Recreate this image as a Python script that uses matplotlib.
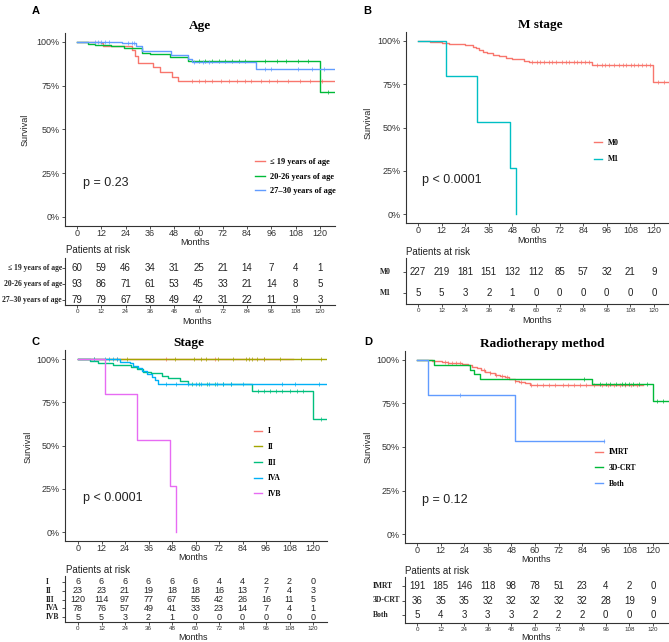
import numpy as np
import matplotlib
matplotlib.use("Agg")
import matplotlib.pyplot as plt
from matplotlib import transforms

plt.rcParams['font.family'] = ['Liberation Sans', 'DejaVu Sans']
SERIF = ['Liberation Serif', 'DejaVu Serif']

# ---------------- data ----------------
months = [0, 12, 24, 36, 48, 60, 72, 84, 96, 108, 120]

# A: age
age_labels = ['≤ 19 years of age', '20-26 years of age', '27–30 years of age']
age_t1 = [12, 13, 27, 28.5, 30, 37.5, 41, 47, 50]
age_s1 = [.99, .974, .95, .92, .878, .853, .825, .80, .773]
age_c1 = [57, 60, 63, 66.5, 71, 75, 79, 83, 86, 91, 95, 99, 104, 110, 115, 121]
age_t2 = [5.6, 8.9, 17, 23, 32, 36, 46, 55, 120]
age_s2 = [.989, .983, .977, .964, .935, .93, .913, .891, .713]
age_c2 = [60, 63, 66.5, 70, 73, 76.5, 80, 83, 93, 99, 103, 109, 114, 124]
age_t3 = [22, 29.3, 32, 46.5, 55, 57, 88.6]
age_s3 = [.99, .975, .947, .922, .903, .886, .846]
age_c3 = [9, 10.5, 12, 14, 16, 25, 27, 28, 58, 62, 65, 93, 96, 109, 116, 122]
age_risk = [[60, 59, 46, 34, 31, 25, 21, 14, 7, 4, 1],
            [93, 86, 71, 61, 53, 45, 33, 21, 14, 8, 5],
            [79, 79, 67, 58, 49, 42, 31, 22, 11, 9, 3]]

# B: M stage
m_labels = ['M0', 'M1']
m_t1 = [6, 9, 12, 16, 20, 24, 26, 28, 29.5, 31, 33, 35, 38, 41, 44.7, 48, 51.5, 54, 56.6, 88.5, 119.5]
m_s1 = [.996, .993, .99, .985, .982, .978, .974, .967, .958, .948, .938, .928, .919, .911, .903, .898,
        .894, .886, .877, .864, .765]
m_c1 = [58, 60.5, 62, 64, 66.5, 68, 70, 73, 75, 77, 79.5, 81, 83, 85, 87, 91, 93.5, 95, 97, 99.5, 102,
        104, 106, 108.5, 110, 112, 114, 116, 118, 122, 125]
m_t2 = [14, 30, 47, 50]
m_s2 = [.8, .533, .267, 0]
m_risk = [[227, 219, 181, 151, 132, 112, 85, 57, 32, 21, 9],
          [5, 5, 3, 2, 1, 0, 0, 0, 0, 0, 0]]

# C: stage
st_labels = ['I', 'II', 'III', 'IVA', 'IVB']
st_t1, st_s1, st_c1 = [], [], [20, 45, 70, 95]
st_t2, st_s2 = [], []
st_c2 = [8, 25, 49.5, 59, 63, 65.5, 71.5, 79, 86, 87.5, 89, 91.5, 95, 103, 114, 124]
st_t3 = [6, 10, 18, 27, 30, 33, 37.5, 43, 46, 52, 56, 89, 120]
st_s3 = [.99, .979, .965, .952, .94, .927, .917, .902, .888, .875, .857, .817, .653]
st_c3 = [58, 62, 66, 70, 74, 78, 92, 95, 98, 101, 104, 108, 112, 115, 124]
st_t4 = [21.4, 26.5, 28.2, 30.4, 32.8, 35, 37.6, 39.3, 40.6]
st_s4 = [.985, .975, .96, .946, .932, .913, .898, .879, .855]
st_c4 = [8, 14, 16, 18, 20, 45, 50, 56, 60, 63, 67, 71, 74, 78, 84, 104, 111, 123]
st_t5 = [14, 30, 47, 50]
st_s5 = [.8, .533, .267, 0]
st_risk = [[6, 6, 6, 6, 6, 6, 4, 4, 2, 2, 0],
           [23, 23, 21, 19, 18, 18, 16, 13, 7, 4, 3],
           [120, 114, 97, 77, 67, 55, 42, 26, 16, 11, 5],
           [78, 76, 57, 49, 41, 33, 23, 14, 7, 4, 1],
           [5, 5, 3, 2, 1, 0, 0, 0, 0, 0, 0]]

# D: radiotherapy method
rt_labels = ['IMRT', '3D-CRT', 'Both']
rt_t1 = [7.5, 10, 12.5, 16, 19.3, 23, 26.1, 28, 30.3, 32.5, 34.6, 37, 39.7, 42, 44.7, 47, 49.8, 52, 55, 57.5]
rt_s1 = [.996, .993, .99, .985, .981, .976, .971, .962, .952, .942, .933, .924, .914, .907, .9, .891,
         .881, .873, .866, .856]
rt_c1 = [14, 16, 18, 20, 22, 34, 37, 40, 43, 46, 50, 53, 58, 61, 64, 67, 70, 74, 77, 80, 83, 86, 90,
         94, 97, 100, 103, 106, 109, 112]
rt_t2 = [8.8, 27.2, 28.9, 31.8, 89, 120]
rt_s2 = [.972, .944, .917, .889, .862, .766]
rt_c2 = [85, 93, 96, 98, 101, 104, 106, 108, 110, 113, 117, 122, 125]
rt_t3 = [5.8, 49.8]
rt_s3 = [.8, .533]
rt_c3 = [22, 95]
rt_risk = [[191, 185, 146, 118, 98, 78, 51, 23, 4, 2, 0],
           [36, 35, 35, 32, 32, 32, 32, 32, 28, 19, 9],
           [5, 4, 3, 3, 3, 2, 2, 2, 0, 0, 0]]

# ---------------- layout helpers (pixel based) ----------------
W, H = 669, 642
fig = plt.figure(figsize=(W / 100, H / 100), dpi=100)
INK = '#333333'


def px_axes(l, t, r, b):
    return fig.add_axes([l / W, 1 - b / H, (r - l) / W, (b - t) / H])


def ftext(x, y, s, **kw):
    fig.text(x / W, 1 - y / H, s, **kw)


def style(ax):
    for side in ['top', 'right']:
        ax.spines[side].set_visible(False)
    for side in ['left', 'bottom']:
        ax.spines[side].set_color(INK)
        ax.spines[side].set_linewidth(0.8)
    ax.tick_params(colors=INK, length=2.2, width=0.6, labelsize=6.5, pad=1.5)
    ax.tick_params(axis='x', pad=0.3)


def km(ax, ev_t, ev_s, t_end, cens, color, label):
    t = np.r_[0, ev_t, t_end]
    s = np.r_[1, ev_s, ev_s[-1] if len(ev_s) else 1]
    ax.step(t, s, where='post', color=color, lw=1.0, label=label)
    cens = np.asarray(cens, dtype=float)
    cens = cens[cens <= t_end]
    idx = np.searchsorted(t, cens, side='right') - 1
    ax.plot(cens, s[idx], '|', color=color, ms=2.5, mew=0.5)


def main_axes(l, r, y100, y0, x0, x120):
    sc = (y0 - y100)
    ax = px_axes(l, y100 - 0.05 * sc, r, y0 + 0.05 * sc)
    style(ax)
    pm = (x120 - x0) / 120
    ax.set_xlim((l - x0) / pm, (r - x0) / pm)
    ax.set_ylim(-0.05, 1.05)
    ax.set_xticks(months)
    ax.set_yticks([0, .25, .5, .75, 1])
    ax.set_yticklabels(['0%', '25%', '50%', '75%', '100%'])
    return ax


def risk_table(l, t, r, b, x0, x120, rows_px, labels, counts, lab_x, lab_ha, fs, lab_fs):
    ax = px_axes(l, t, r, b)
    style(ax)
    pm = (x120 - x0) / 120
    ax.set_xlim((l - x0) / pm, (r - x0) / pm)
    n = len(labels)
    pitch = (rows_px[-1] - rows_px[0]) / (n - 1)
    ax.set_ylim((rows_px[-1] - b) / pitch, (rows_px[-1] - t) / pitch)
    ax.set_yticks(range(n))
    ax.set_yticklabels([])
    ax.set_xticks(months)
    ax.tick_params(axis='x', labelsize=4.5, length=2, pad=1)
    ax.tick_params(axis='y', length=2)
    tr = transforms.blended_transform_factory(fig.transFigure, ax.transData)
    for i, (lab, cnt) in enumerate(zip(labels, counts)):
        y = n - 1 - i
        for m, c in zip(months, cnt):
            ax.text(m, y, str(c), ha='center', va='center', fontsize=fs, color='#222222')
        ax.text(lab_x / W, y, lab, transform=tr, ha=lab_ha, va='center', fontsize=lab_fs,
                family=SERIF, weight='bold', color='#222222')
    return ax


def legend(ax, x, y, fs, spacing):
    ax.legend(loc='center left', bbox_to_anchor=(x, y), frameon=False, handlelength=1.1,
              handletextpad=0.7, labelspacing=spacing, borderpad=0, borderaxespad=0,
              prop={'family': SERIF, 'weight': 'bold', 'size': fs})


def headers(letter_xy, title, title_xy, surv_xy, months_xy, par_xy, p, p_xy, tmonths_xy):
    ftext(*letter_xy, letter, fontsize=8, weight='bold', ha='left', va='center')
    ftext(*title_xy, title, fontsize=9.5, weight='bold', family=SERIF, ha='center', va='center')
    ftext(*surv_xy, 'Survival', fontsize=6.5, rotation=90, ha='center', va='center', color='#222222')
    ftext(*months_xy, 'Months', fontsize=6.5, ha='center', va='center', color='#222222')
    ftext(*par_xy, 'Patients at risk', fontsize=7, ha='left', va='center', color='#222222')
    ftext(*p_xy, p, fontsize=9, ha='left', va='center', color='#222222')
    ftext(*tmonths_xy, 'Months', fontsize=6.5, ha='center', va='center', color='#222222')


# ---------------- A ----------------
axA = main_axes(65, 335, 41.7, 217, 77, 320)
cols3 = ['#F8766D', '#00BA38', '#619CFF']
km(axA, age_t1, age_s1, 127.5, age_c1, cols3[0], age_labels[0])
km(axA, age_t2, age_s2, 127.5, age_c2, cols3[1], age_labels[1])
km(axA, age_t3, age_s3, 127.5, age_c3, cols3[2], age_labels[2])
legend(axA, 0.705, 0.255, 6, 0.75)
risk_table(65, 258, 335, 305, 77, 320, [268, 284, 300], age_labels, age_risk, 62, 'right', 7, 5.5)
letter = 'A'
headers((32, 11), 'Age', (200, 26), (25, 130), (195, 242.5), (66, 250), 'p = 0.23', (83, 183), (197, 321))

# ---------------- B ----------------
axB = main_axes(406, 669, 41, 214, 418, 654)
cols2 = ['#F8766D', '#00BFC4']
km(axB, m_t1, m_s1, 127.5, m_c1, cols2[0], m_labels[0])
km(axB, m_t2, m_s2, 50, [], cols2[1], m_labels[1])
legend(axB, 0.715, 0.375, 5.5, 1.1)
risk_table(406, 258, 669, 304, 418, 654, [272, 293], m_labels, m_risk, 380, 'left', 7, 5.5)
letter = 'B'
headers((363, 11), 'M stage', (540, 25), (368, 123), (532, 240.5), (406, 252), 'p < 0.0001', (422, 180),
        (537, 320))

# ---------------- C ----------------
axC = main_axes(65, 327, 359, 532, 78, 313)
cols5 = ['#F8766D', '#A3A500', '#00BF7D', '#00B0F6', '#E76BF3']
km(axC, st_t1, st_s1, 110, st_c1, cols5[0], st_labels[0])
km(axC, st_t2, st_s2, 127.5, st_c2, cols5[1], st_labels[1])
km(axC, st_t3, st_s3, 127.5, st_c3, cols5[2], st_labels[2])
km(axC, st_t4, st_s4, 127.5, st_c4, cols5[3], st_labels[3])
km(axC, st_t5, st_s5, 50, [], cols5[4], st_labels[4])
legend(axC, 0.72, 0.41, 5.5, 1.0)
risk_table(65, 576, 327, 622, 78, 313, [582, 591, 599.5, 608, 617], st_labels, st_risk, 46, 'left', 6.5, 5.5)
letter = 'C'
headers((32, 342), 'Stage', (189, 343), (28, 447), (193, 558), (66, 570), 'p < 0.0001', (83, 498),
        (193, 637))

# ---------------- D ----------------
axD = main_axes(405, 669, 360, 534, 417, 653)
cols3 = ['#F8766D', '#00BA38', '#619CFF']
km(axD, rt_t1, rt_s1, 115, rt_c1, cols3[0], rt_labels[0])
km(axD, rt_t2, rt_s2, 127.5, rt_c2, cols3[1], rt_labels[1])
km(axD, rt_t3, rt_s3, 95, rt_c3, cols3[2], rt_labels[2])
legend(axD, 0.72, 0.39, 5.5, 1.0)
risk_table(405, 577, 669, 623, 417, 653, [586, 601, 615], rt_labels, rt_risk, 373, 'left', 7, 5.5)
letter = 'D'
headers((364, 342), 'Radiotherapy method', (542, 344), (368, 447), (536, 559), (405, 571), 'p = 0.12',
        (422, 500), (536, 637))

fig.savefig('out.png', dpi=100)
